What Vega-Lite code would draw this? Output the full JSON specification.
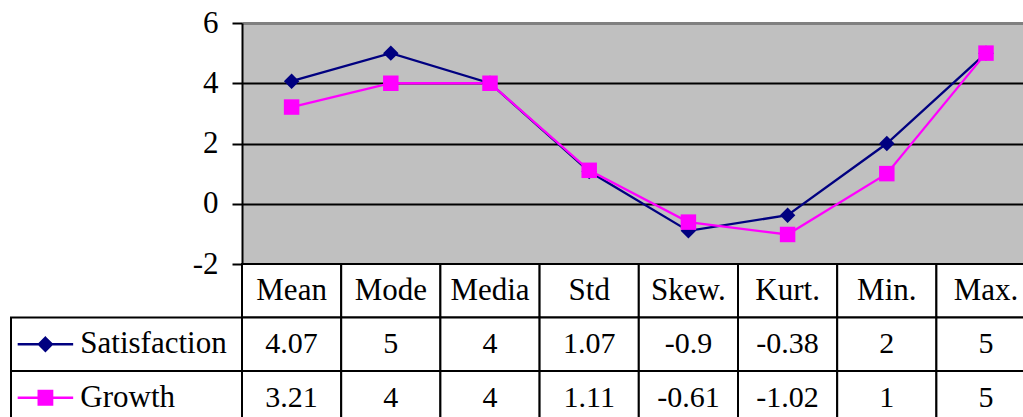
{
  "$schema": "https://vega.github.io/schema/vega-lite/v6.json",
  "width": 781,
  "height": 241,
  "autosize": {"type": "none"},
  "padding": {"left": 242, "top": 23, "right": 0, "bottom": 153},
  "config": {"view": {"fill": "#C0C0C0", "stroke": null}, "font": "Liberation Serif, DejaVu Serif, serif"},
  "data": {"values": [
    {"stat": "Mean", "series": "Satisfaction", "value": 4.07},
    {"stat": "Mode", "series": "Satisfaction", "value": 5},
    {"stat": "Media", "series": "Satisfaction", "value": 4},
    {"stat": "Std", "series": "Satisfaction", "value": 1.07},
    {"stat": "Skew.", "series": "Satisfaction", "value": -0.9},
    {"stat": "Kurt.", "series": "Satisfaction", "value": -0.38},
    {"stat": "Min.", "series": "Satisfaction", "value": 2},
    {"stat": "Max.", "series": "Satisfaction", "value": 5},
    {"stat": "Mean", "series": "Growth", "value": 3.21},
    {"stat": "Mode", "series": "Growth", "value": 4},
    {"stat": "Media", "series": "Growth", "value": 4},
    {"stat": "Std", "series": "Growth", "value": 1.11},
    {"stat": "Skew.", "series": "Growth", "value": -0.61},
    {"stat": "Kurt.", "series": "Growth", "value": -1.02},
    {"stat": "Min.", "series": "Growth", "value": 1},
    {"stat": "Max.", "series": "Growth", "value": 5}
  ]},
  "layer": [
    {
      "encoding": {
        "x": {"field": "stat", "type": "nominal", "sort": null,
              "scale": {"domain": ["Mean", "Mode", "Media", "Std", "Skew.", "Kurt.", "Min.", "Max."], "range": [0, 793.6], "paddingInner": 0, "paddingOuter": 0},
              "axis": null},
        "y": {"field": "value", "type": "quantitative",
              "scale": {"domain": [-2, 6], "nice": false, "zero": false},
              "axis": {"values": [-2, 0, 2, 4, 6], "title": null, "domainColor": "black", "domainWidth": 2,
                       "tickColor": "black", "tickWidth": 2, "tickSize": 10,
                       "labelExpr": "'' + datum.value",
                       "labelFontSize": 31, "labelColor": "black", "labelPadding": 14,
                       "labelFont": "Liberation Serif, DejaVu Serif, serif",
                       "grid": true,
                       "gridColor": {"condition": {"test": "datum.value === 6", "value": "#808080"}, "value": "black"},
                       "gridWidth": {"condition": {"test": "datum.value === 6", "value": 3}, "value": 2},
                       "gridOpacity": 1}},
        "color": {"field": "series", "type": "nominal",
                  "scale": {"domain": ["Satisfaction", "Growth"], "range": ["#000080", "#FF00FF"]}, "legend": null}
      },
      "layer": [
        {"mark": {"type": "line", "strokeWidth": 2.3}, "encoding": {"order": {"value": null}}},
        {"mark": {"type": "point", "filled": true, "opacity": 1, "size": 240},
         "encoding": {"shape": {"field": "series", "type": "nominal",
                                "scale": {"domain": ["Satisfaction", "Growth"], "range": ["diamond", "square"]}, "legend": null}}}
      ]
    },
    {
      "encoding": {
        "x": {"field": "stat", "type": "nominal", "sort": null,
              "scale": {"domain": ["Mean", "Mode", "Media", "Std", "Skew.", "Kurt.", "Min.", "Max."], "range": [0, 793.6], "paddingInner": 0, "paddingOuter": 0},
              "axis": null}
      },
      "layer": [
        {"transform": [{"filter": "datum.series === 'Satisfaction'"}],
         "mark": {"type": "rect", "fill": "white", "stroke": "black", "strokeWidth": 2},
         "encoding": {"y": {"datum": "header", "type": "nominal",
                            "scale": {"domain": ["header", "Satisfaction", "Growth"], "range": [241, 401.5], "paddingInner": 0, "paddingOuter": 0},
                            "axis": null}}},
        {"transform": [{"filter": "datum.series === 'Satisfaction'"}],
         "mark": {"type": "text", "fontSize": 31, "color": "black", "font": "Liberation Serif, DejaVu Serif, serif"},
         "encoding": {"y": {"datum": "header", "type": "nominal"}, "text": {"field": "stat", "type": "nominal"}}},
        {"mark": {"type": "rect", "fill": "white", "stroke": "black", "strokeWidth": 2},
         "encoding": {"y": {"field": "series", "type": "nominal"}}},
        {"mark": {"type": "text", "fontSize": 30, "color": "black", "font": "Liberation Serif, DejaVu Serif, serif"},
         "encoding": {"y": {"field": "series", "type": "nominal"}, "text": {"field": "value", "type": "nominal"}}}
      ]
    },
    {
      "transform": [{"filter": "datum.stat === 'Mean'"}],
      "encoding": {
        "y": {"field": "series", "type": "nominal",
              "scale": {"domain": ["header", "Satisfaction", "Growth"], "range": [241, 401.5], "paddingInner": 0, "paddingOuter": 0},
              "axis": null}
      },
      "layer": [
        {"mark": {"type": "rect", "fill": "white", "stroke": "black", "strokeWidth": 2},
         "encoding": {"x": {"datum": "legend", "type": "nominal",
                            "scale": {"domain": ["legend"], "range": [-231, 0], "paddingInner": 0, "paddingOuter": 0},
                            "axis": null}}},
        {"mark": {"type": "point", "filled": true, "opacity": 1, "size": 225, "strokeWidth": 2.3},
         "encoding": {"x": {"datum": "legend", "type": "nominal", "bandPosition": 0.149},
                      "shape": {"field": "series", "type": "nominal",
                                "scale": {"domain": ["Satisfaction", "Growth"],
                                          "range": ["M-3.7,0L3.7,0M0,-0.87L0.87,0L0,0.87L-0.87,0Z", "M-3.7,0L3.7,0M-0.9,-0.9L0.9,-0.9L0.9,0.9L-0.9,0.9Z"]},
                                "legend": null},
                      "fill": {"field": "series", "type": "nominal",
                               "scale": {"domain": ["Satisfaction", "Growth"], "range": ["#000080", "#FF00FF"]}, "legend": null},
                      "stroke": {"field": "series", "type": "nominal",
                                 "scale": {"domain": ["Satisfaction", "Growth"], "range": ["#000080", "#FF00FF"]}, "legend": null}}},
        {"mark": {"type": "text", "align": "left", "fontSize": 31, "color": "black", "font": "Liberation Serif, DejaVu Serif, serif"},
         "encoding": {"x": {"datum": "legend", "type": "nominal", "bandPosition": 0.3},
                      "text": {"field": "series", "type": "nominal"}}}
      ]
    }
  ],
  "resolve": {"scale": {"x": "independent", "y": "independent", "shape": "independent"}}
}
